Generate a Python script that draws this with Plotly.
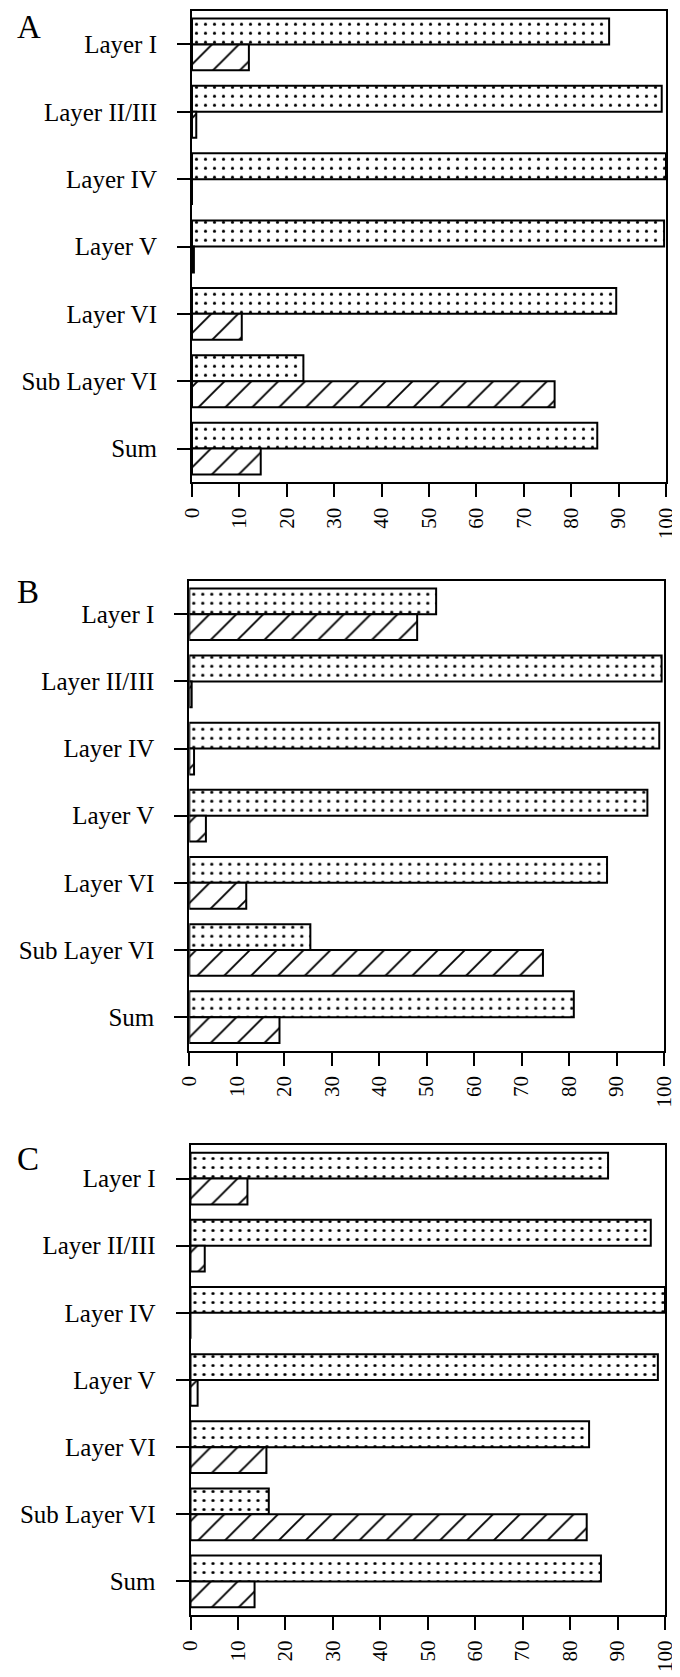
import plotly.graph_objects as go

categories = ["Layer I", "Layer II/III", "Layer IV", "Layer V", "Layer VI", "Sub Layer VI", "Sum"]

a_dotted = [88, 99.1, 100, 99.6, 89.5, 23.5, 85.5]
a_hatched = [12, 0.9, 0, 0.4, 10.5, 76.5, 14.5]

b_dotted = [52, 99.5, 99, 96.5, 88, 25.5, 81]
b_hatched = [48, 0.5, 1, 3.5, 12, 74.5, 19]

c_dotted = [88, 97, 100, 98.5, 84, 16.5, 86.5]
c_hatched = [12, 3, 0, 1.5, 16, 83.5, 13.5]

x_ticks = [0, 10, 20, 30, 40, 50, 60, 70, 80, 90, 100]
panel_letters = ["A", "B", "C"]

# page body has an 8px margin: figure starts at (8, 8) in the window
OFF = 8
W, H = 680 - OFF, 1677 - OFF
FONT = "Liberation Serif"

# panel pixel boxes in window coordinates: (left, right, top, bottom)
boxes = [(192, 666, 10.7, 482.3), (189.3, 664, 580.7, 1050.7), (190.5, 665, 1145, 1615)]
letter_dy = [13.6, 11.5, 13.8]

fig = go.Figure()
panels = [(a_dotted, a_hatched), (b_dotted, b_hatched), (c_dotted, c_hatched)]

for i, (dotted, hatched) in enumerate(panels):
    sfx = "" if i == 0 else str(i + 1)
    fig.add_trace(go.Bar(
        y=categories, x=dotted, orientation="h",
        xaxis="x" + sfx, yaxis="y" + sfx,
        marker=dict(color="white",
                    line=dict(color="black", width=2),
                    pattern=dict(shape=".", size=9, solidity=0.1,
                                 fgcolor="black", bgcolor="white",
                                 fgopacity=1, fillmode="overlay")),
        showlegend=False,
    ))
    fig.add_trace(go.Bar(
        y=categories, x=hatched, orientation="h",
        xaxis="x" + sfx, yaxis="y" + sfx,
        marker=dict(color="white",
                    line=dict(color="black", width=2),
                    pattern=dict(shape="/", size=19, solidity=0.1,
                                 fgcolor="black", bgcolor="white",
                                 fgopacity=1, fillmode="overlay")),
        showlegend=False,
    ))

layout = dict(
    width=W, height=H,
    margin=dict(l=0, r=0, t=0, b=0, pad=0),
    paper_bgcolor="white", plot_bgcolor="white",
    barmode="group", bargap=0.23, bargroupgap=0,
    showlegend=False,
    font=dict(family=FONT, color="black"),
)

annotations = []
for i, (l, r, t, b) in enumerate(boxes):
    sfx = "" if i == 0 else str(i + 1)
    l, r, t, b = l - OFF, r - OFF, t - OFF, b - OFF
    layout["xaxis" + sfx] = dict(
        domain=[l / W, r / W], anchor="y" + sfx,
        range=[0, 100], tickvals=x_ticks, ticktext=[str(v) for v in x_ticks],
        tickangle=-90, ticks="outside", ticklen=13, tickwidth=2, tickcolor="black",
        showline=True, linewidth=2, linecolor="black", mirror=True,
        showgrid=False, zeroline=False, automargin=False,
        tickfont=dict(family=FONT, size=21, color="black"),
        ticklabelstandoff=2, ticklabeloverflow="allow",
        fixedrange=True,
    )
    layout["yaxis" + sfx] = dict(
        domain=[1 - b / H, 1 - t / H], anchor="x" + sfx,
        type="category", categoryorder="array", categoryarray=categories,
        range=[6.5, -0.5],
        ticks="outside", ticklen=13, tickwidth=2, tickcolor="black",
        showline=True, linewidth=2, linecolor="black", mirror=True,
        showgrid=False, zeroline=False, automargin=False,
        tickfont=dict(family=FONT, size=25, color="black"),
        ticklabelstandoff=15,
        fixedrange=True,
    )
    if i == 0:
        ay, yanchor = 1.0, "top"
    else:
        ay, yanchor = 1 - (t + letter_dy[i]) / H, "middle"
    annotations.append(dict(
        text=panel_letters[i], xref="paper", yref="paper",
        x=(16 - OFF) / W, y=ay, xanchor="left", yanchor=yanchor,
        showarrow=False, borderpad=0, font=dict(family=FONT, size=33, color="black"),
    ))

layout["annotations"] = annotations
fig.update_layout(**layout)
fig.write_html("out.html")
